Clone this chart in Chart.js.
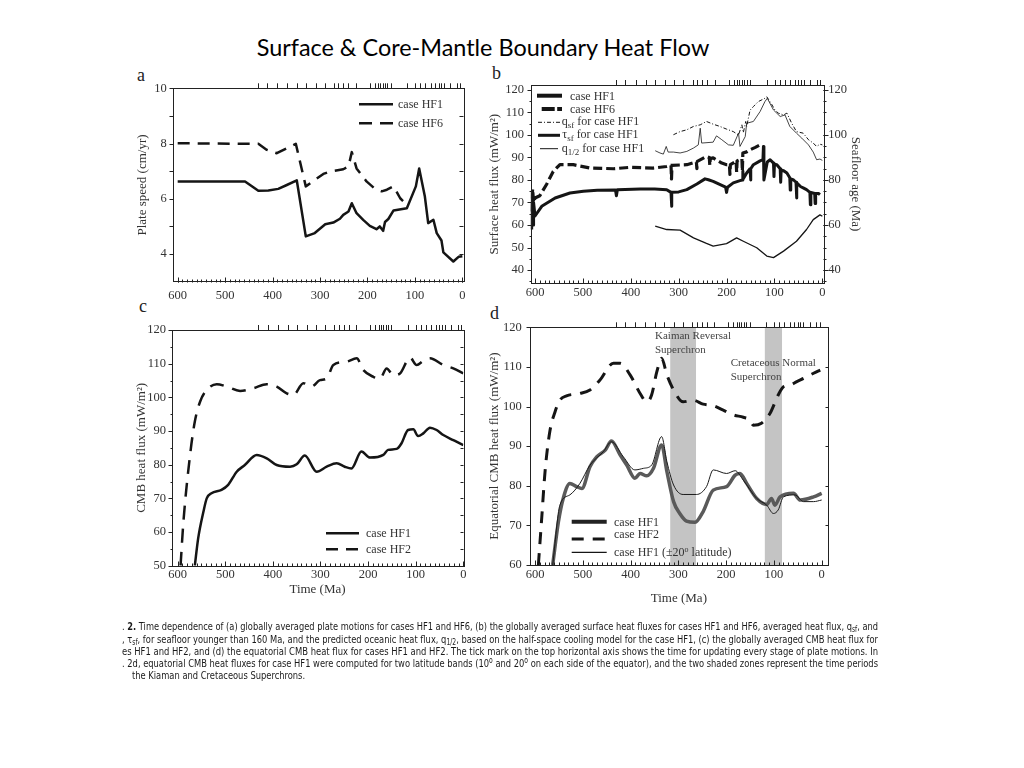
<!DOCTYPE html>
<html>
<head>
<meta charset="utf-8">
<script src="https://cdn.jsdelivr.net/npm/chart.js"></script>
<style>
  html, body { margin:0; padding:0; background:#fff; }
  body { width:1024px; height:768px; position:relative; overflow:hidden; }
  canvas { position:absolute; }
  #title { position:absolute; top:33px; left:0; width:966px; text-align:center; font-family:Lato,"Open Sans",sans-serif; font-size:22px; line-height:28px; color:#000; white-space:nowrap; }
  .letter { position:absolute; font-family:"Liberation Serif","DejaVu Serif",serif; font-size:18px; line-height:17px; color:#222; }
  .lgtext { position:absolute; font-family:"Liberation Serif","DejaVu Serif",serif; font-size:12px; line-height:14px; color:#333; white-space:nowrap; }
  .lgtext sub { font-size:9px; vertical-align:-3px; line-height:0; }
  .lgtext sup { font-size:8px; vertical-align:4px; line-height:0; }
  .note { position:absolute; font-family:"Liberation Serif","DejaVu Serif",serif; font-size:11px; line-height:13.5px; color:#444; white-space:nowrap; }
  .cap { position:absolute; font-family:"Liberation Sans Narrow","DejaVu Sans Condensed","Liberation Sans",sans-serif; font-size:11px; line-height:12px; color:#1a1a1a; white-space:nowrap; transform-origin:0 50%; }
  .cap sub { font-size:8px; vertical-align:-2px; line-height:0; }
  .cap sup { font-size:8px; vertical-align:4px; line-height:0; }
</style>
</head>
<body>
<div id="title">Surface &amp; Core-Mantle Boundary Heat Flow</div>
<div class="letter" style="left:137px;top:67px;">a</div>
<div class="letter" style="left:492px;top:65px;">b</div>
<div class="letter" style="left:139px;top:298px;">c</div>
<div class="letter" style="left:490px;top:305px;">d</div>
<script>
// ===================== DATA =====================
const timeTickLabels = [600, 500, 400, 300, 200, 100, 0];
const plateUpdateTimes = [430,410,389,368,348,328,308,289,270,260,250,239,224,194,184,177,172,167,162,157,150,115,98,88,77,66,56,49,44,38,24,10,3];

// (a) plate speed
const aSpeedTicks = [4, 6, 8, 10];
const aHF1Time  = [600,458,430,409,388,370,349,330,311,289,272,258,251,240,233,223,209,195,181,174,167,163,156,145,117,98,91,79,72,61,54,44,40,19,8,0];
const aHF1Speed = [6.63,6.63,6.29,6.30,6.36,6.50,6.67,4.64,4.76,5.08,5.14,5.28,5.42,5.54,5.84,5.48,5.24,5.02,4.90,5.00,4.84,5.16,5.27,5.58,5.66,6.45,7.10,6.08,5.12,5.24,4.76,4.49,4.06,3.73,3.90,3.92];
const aHF6Time  = [600,430,412,391,370,351,330,293,279,251,240,233,223,202,184,170,159,145,131,125];
const aHF6Speed = [8.01,7.99,7.77,7.65,7.83,7.99,6.45,6.90,6.99,7.07,7.17,7.69,7.10,6.63,6.36,6.27,6.33,6.45,6.02,5.92];

// (b) surface heat flux and seafloor age
const bFluxTicks = [40, 50, 60, 70, 80, 90, 100, 110, 120];
const bAgeTicks  = [40, 60, 80, 100, 120];
const bHF1Time = [607,606,604,603,600,586,558,527,499,470,432,430,428,380,350,325,316,315,314,300,283,262,245,238,228,202,200,198,186,172,167,166,165,158,151,150,149,144,130,124,123,122,115,109,102,101,100,95,88,87,86,80,74,68,67,66,60,55,54,53,45,40,33,26,25,24,16,15,14,8,5];
const bHF1Flux = [58,75,60,70,64,68.3,72,74.2,75,75.4,75.6,73,75.7,76,76,75.7,74.5,68.3,74.5,74.7,75.7,78.2,80.5,80.1,79.4,76.8,74.5,76.8,78.7,79.7,80,84,80.5,83.1,85,80,85,86.8,88.5,89,94.9,80,88,89,87.5,81.5,87,86.8,85,79,84.5,84,83.1,81,75.5,80.5,80,79,72,78.7,77,76.5,75.7,74.5,69,74.5,74,69.5,74,74,73.5];
const bHF6Time = [607,605,603,600,590,576,562,548,520,485,436,402,353,325,316,315,314,283,263,262,261,242,236,235,234,228,210,200,194,193,192,180,179,178,168,167,166,158,151,140,130];
const bHF6Flux = [66,76,70,72,73,78,83.8,86.8,86.8,85.3,85,85.6,85.3,86,86.5,80.5,86.5,86.8,88,85,88.3,90.5,90,86.5,89.5,89.8,87.5,86.8,86.8,82.5,86.8,88.3,83.5,88.5,89.5,84,92,92.5,93.4,94.5,95.6];
const bQsfTime = [311,297,283,269,255,242,228,214,200,186,175,168,165,160,158,151,144,134,120,116,106,99,92,81,74,64,54,40,29,19,12,5,0];
const bQsfFlux = [100.1,101.5,102.3,103.8,104.5,106,104.8,103.8,102.6,101.5,100,104.5,101,106,103.8,111,112.6,114.8,116.3,117,113.7,111.1,109.7,108.9,109.7,105.2,101.5,100.8,97.9,96.4,94.9,95.9,95.6];
const bAgeTime = [349,325,297,269,242,228,200,179,165,137,116,102,81,54,33,19,5,0];
const bAge     = [59.5,58,57.7,54.3,51.8,50.6,51.7,54.3,52.8,49.9,46.2,45.5,48.4,52.8,58,62.4,64.5,63.9];
const bQhalfTime = [349,339,332,326,322,311,297,283,269,259,255,252,228,221,210,196,186,175,172,161,158,144,130,120,115,102,88,78,68,54,43,29,19,12,5,0];
const bQhalfFlux = [93,92,91.5,94.9,92.4,92.4,92,92.7,94.2,95.6,103,96.4,96.8,99.6,97.9,95.6,95.4,100.8,94.9,99.3,105.2,106,110.4,114.8,116.3,111.1,108.2,108.9,103.8,100.8,98.6,95.6,92.4,89,89.3,88.7];

// (c) CMB heat flux
const cFluxTicks = [50, 60, 70, 80, 90, 100, 110, 120];
const cHF1Time = [564,557,546,539,529,508,494,476,459,434,413,392,364,350,333,308,287,266,249,235,214,196,168,158,140,130,116,105,95,84,70,56,42,21,0];
const cHF1Flux = [50,58.1,66,70,71.5,72.5,74,77.9,79.9,82.9,81.9,79.9,79.4,80.1,82.7,77.9,79.4,80.4,79.4,78.9,83.9,82.1,82.9,84.4,84.7,86.3,90.3,90.5,88.5,89.3,91,90.3,88.8,87.3,85.8];
const cHF2Time = [594,588,574,564,553,539,518,497,469,441,413,392,371,357,336,319,301,287,273,245,224,210,189,175,161,147,133,112,98,84,70,42,21,0];
const cHF2Flux = [50,63,82.9,92.8,98.7,102.2,103.9,103.2,101.9,102.7,103.9,103.2,101.2,100.7,104.2,103.2,105.1,105.6,109.6,110.6,111.6,108.1,106.1,105.6,108.6,106.6,107.1,111.8,109.6,110.8,111.6,109.6,108.6,107.1];

// (d) equatorial CMB heat flux
const dFluxTicks = [60, 70, 80, 90, 100, 110, 120];
const dHF2Time = [593,586,579,569,558,548,534,506,485,464,436,422,401,380,366,356,345,335,324,310,290,269,248,227,206,185,164,150,143,126,108,91,80,66,52,38,17,3];
const dHF2Flux = [60,71.8,83.6,93.7,98.7,101.6,102.7,103.3,104.2,106.7,110.9,110.9,108,103.3,101.2,102.9,108.8,112.2,108,104.2,101.2,101.6,100.6,100.2,99.1,97.9,97.3,96.6,95.3,95.8,98.3,102.9,105,105.4,106.3,107.1,108.4,109.2];
const dHF1Time = [563,551,541,527,513,502,485,471,453,440,422,408,391,380,366,352,335,324,310,297,283,265,248,227,199,181,171,157,136,115,105,98,87,59,45,17,0];
const dHF1Flux = [60,70.9,76.8,80.6,79.8,79.3,84.8,87.3,89,91.3,87.8,85.2,81.9,83.1,82.5,84.4,90.3,83.6,76,73,71.1,70.8,73.5,78.9,79.8,82.7,83.1,80.6,76.8,75.3,76.8,75.1,77.2,78.1,76.4,77.2,78.1];
const dHF1Lat20Time = [563,548,527,506,485,457,440,415,391,373,356,335,324,310,290,262,241,227,199,181,164,136,115,101,91,80,56,38,17,0];
const dHF1Lat20Flux = [60,75.1,77.7,80.6,85.2,88.6,91.1,87.3,84,84.4,85.2,92.4,86.1,80.2,77.8,77.8,79.8,84,83.1,83.8,81.4,76.8,75.1,73,73.9,77.2,77.7,76,76,76.4];
const kiamanBand = [317, 263];
const cretaceousBand = [119, 83];

// ===================== RENDERING =====================
const SERIF = '"Liberation Serif","DejaVu Serif","Times New Roman",serif';
const tickFont = {family: SERIF, size: 12.5};
const titleFont = {family: SERIF, size: 13};
const TXT = '#333';
const INK = '#151515';
const specs = {};

function pts(xs, ys) { return xs.map((x, i) => ({x: x, y: ys[i]})); }
function fixedTicks(list) { return s => { s.ticks = list.map(v => ({value: v})); }; }

const frameTicks = {
  id: 'frameTicks',
  afterDatasetsDraw(chart) {
    const sp = specs[chart.canvas.id]; if (!sp) return;
    const {ctx, chartArea: a, scales} = chart;
    ctx.save();
    ctx.strokeStyle = '#222'; ctx.lineWidth = 1;
    ctx.strokeRect(Math.round(a.left) + 0.5, Math.round(a.top) + 0.5, Math.round(a.right - a.left), Math.round(a.bottom - a.top));
    sp.marks.forEach(m => {
      const sc = scales[m.scale];
      const sg = m.dir === 'in' ? 1 : -1;
      ctx.beginPath();
      for (let v = m.from; v <= m.to + 1e-9; v += m.step) {
        const p = Math.round(sc.getPixelForValue(v)) + 0.5;
        if (m.side === 'bottom') { const y0 = Math.round(a.bottom) + 0.5; ctx.moveTo(p, y0); ctx.lineTo(p, y0 - sg * m.len); }
        else if (m.side === 'left') { const x0 = Math.round(a.left) + 0.5; ctx.moveTo(x0, p); ctx.lineTo(x0 + sg * m.len, p); }
        else if (m.side === 'right') { const x0 = Math.round(a.right) + 0.5; ctx.moveTo(x0, p); ctx.lineTo(x0 - sg * m.len, p); }
      }
      ctx.stroke();
    });
    ctx.restore();
  }
};
const bandPlugin = {
  id: 'bands',
  beforeDatasetsDraw(chart) {
    const sp = specs[chart.canvas.id]; if (!sp || !sp.bands.length) return;
    const {ctx, chartArea: a, scales: {x}} = chart;
    ctx.save(); ctx.fillStyle = '#c4c4c4';
    sp.bands.forEach(b => {
      const x1 = x.getPixelForValue(b[0]), x2 = x.getPixelForValue(b[1]);
      ctx.fillRect(Math.min(x1, x2), a.top, Math.abs(x2 - x1), a.bottom - a.top);
    });
    ctx.restore();
  }
};
Chart.register(frameTicks, bandPlugin);

function ds(xs, ys, style, yAxisID) {
  return Object.assign({data: pts(xs, ys), xAxisID: 'x', yAxisID: yAxisID || 'y', fill: false,
    pointRadius: 0, tension: 0, borderColor: INK, borderJoinStyle: 'round'}, style);
}

function makePanel(p) {
  const cv = document.createElement('canvas');
  cv.id = p.id; cv.width = p.box.w; cv.height = p.box.h;
  cv.style.left = p.box.left + 'px'; cv.style.top = p.box.top + 'px';
  document.body.appendChild(cv);
  const relL = p.area.l - p.box.left, relT = p.area.t - p.box.top;
  const relR = p.box.left + p.box.w - p.area.r, relB = p.box.top + p.box.h - p.area.b;
  specs[p.id] = {marks: p.marks, bands: p.bands || []};
  const scales = {
    x: {type: 'linear', position: 'bottom', min: p.xmin, max: p.xmax, reverse: true,
        afterBuildTicks: fixedTicks(timeTickLabels),
        grid: {display: false, drawTicks: false}, border: {display: false},
        ticks: {font: tickFont, color: TXT, padding: p.xPad, maxRotation: 0, autoSkip: false},
        title: p.xTitle ? {display: true, text: p.xTitle, font: titleFont, color: TXT, padding: {top: 0, bottom: p.xTitlePad}} : {display: false},
        afterFit: s => { s.height = relB; }},
    x2: {type: 'linear', position: 'top', min: p.xmin, max: p.xmax, reverse: true,
        afterBuildTicks: fixedTicks(plateUpdateTimes),
        grid: {display: true, drawOnChartArea: false, drawTicks: true, tickLength: 5, color: '#222', lineWidth: 1},
        border: {display: false}, ticks: {display: false, autoSkip: false},
        afterFit: s => { s.height = relT; }},
    y: {type: 'linear', position: 'left', min: p.ymin, max: p.ymax,
        afterBuildTicks: fixedTicks(p.yTicks),
        grid: {display: false, drawTicks: false}, border: {display: false},
        ticks: {font: tickFont, color: TXT, padding: p.yPad, autoSkip: false},
        title: {display: true, text: p.yTitle, font: titleFont, color: TXT, padding: {top: p.yTitlePad, bottom: 0}},
        afterFit: s => { s.width = relL; }}
  };
  if (p.y2) {
    scales.y2 = {type: 'linear', position: 'right', min: p.ymin, max: p.ymax,
        afterBuildTicks: fixedTicks(p.y2.ticks),
        grid: {display: false, drawTicks: false}, border: {display: false},
        ticks: {font: tickFont, color: TXT, padding: p.y2.pad, autoSkip: false},
        title: {display: true, text: p.y2.title, font: titleFont, color: TXT, padding: {top: p.y2.titlePad, bottom: 0}},
        afterFit: s => { s.width = relR; }};
  }
  return new Chart(cv, {
    type: 'line',
    data: {datasets: p.datasets},
    options: {
      responsive: false, animation: false, devicePixelRatio: 1,
      layout: {padding: {left: 0, top: 0, right: p.y2 ? 0 : relR, bottom: 0}},
      plugins: {legend: {display: false}, tooltip: {enabled: false}, title: {display: false}},
      elements: {point: {radius: 0}},
      scales: scales
    }
  });
}

const bottomTicks = [
  {scale: 'x', side: 'bottom', from: 0, to: 600, step: 10, len: 3, dir: 'in'},
  {scale: 'x', side: 'bottom', from: 0, to: 600, step: 100, len: 5, dir: 'in'}
];

// Panel a
makePanel({
  id: 'pa', box: {left: 120, top: 60, w: 360, h: 245}, area: {l: 172.7, t: 88.3, r: 463.3, b: 281.7},
  xmin: -2, xmax: 610.5, ymin: 3, ymax: 10, yTicks: aSpeedTicks,
  xPad: 6.4, yPad: 6, yTitle: 'Plate speed (cm/yr)', yTitlePad: 15.2,
  marks: bottomTicks.concat([
    {scale: 'y', side: 'left', from: 4, to: 10, step: 1, len: 4, dir: 'out'},
    {scale: 'y', side: 'right', from: 4, to: 10, step: 1, len: 4, dir: 'in'}
  ]),
  datasets: [
    ds(aHF1Time, aHF1Speed, {borderWidth: 2.5}),
    ds(aHF6Time, aHF6Speed, {borderWidth: 2.5, borderDash: [12, 8]})
  ]
});

// Panel b
makePanel({
  id: 'pb', box: {left: 480, top: 60, w: 390, h: 245}, area: {l: 530.7, t: 85, r: 823.3, b: 283.3},
  xmin: -2, xmax: 609, ymin: 34.1, ymax: 122.2, yTicks: bFluxTicks,
  xPad: 2.2, yPad: 6.7, yTitle: 'Surface heat flux (mW/m²)', yTitlePad: 7.2,
  y2: {ticks: bAgeTicks, pad: 5, title: 'Seafloor age (Ma)', titlePad: 7.2},
  marks: bottomTicks.concat([
    {scale: 'y', side: 'left', from: 40, to: 120, step: 10, len: 4, dir: 'out'},
    {scale: 'y', side: 'left', from: 35, to: 120, step: 5, len: 2, dir: 'out'},
    {scale: 'y2', side: 'right', from: 40, to: 120, step: 20, len: 5, dir: 'out'},
    {scale: 'y2', side: 'right', from: 35, to: 120, step: 5, len: 3, dir: 'out'}
  ]),
  datasets: [
    ds(bHF1Time, bHF1Flux, {borderWidth: 3}),
    ds(bHF6Time, bHF6Flux, {borderWidth: 3.2, borderDash: [9, 4]}),
    ds(bQsfTime, bQsfFlux, {borderWidth: 1, borderDash: [4, 2, 1, 2]}),
    ds(bAgeTime, bAge, {borderWidth: 1.3}, 'y2'),
    ds(bQhalfTime, bQhalfFlux, {borderWidth: 0.8})
  ]
});

// Panel c
makePanel({
  id: 'pc', box: {left: 120, top: 305, w: 360, h: 310}, area: {l: 171.7, t: 330, r: 463.3, b: 565.7},
  xmin: 0, xmax: 612.6, ymin: 50, ymax: 120, yTicks: cFluxTicks,
  xPad: 1.6, xTitle: 'Time (Ma)', xTitlePad: 17.2,
  yPad: 5.7, yTitle: 'CMB heat flux (mW/m²)', yTitlePad: 13.9,
  marks: bottomTicks.concat([
    {scale: 'y', side: 'left', from: 50, to: 120, step: 10, len: 4, dir: 'out'},
    {scale: 'y', side: 'left', from: 55, to: 115, step: 10, len: 2, dir: 'out'},
    {scale: 'y', side: 'right', from: 50, to: 120, step: 5, len: 3, dir: 'in'}
  ]),
  datasets: [
    ds(cHF1Time, cHF1Flux, {borderWidth: 2.5, cubicInterpolationMode: 'monotone'}),
    ds(cHF2Time, cHF2Flux, {borderWidth: 2.5, borderDash: [14, 9], cubicInterpolationMode: 'monotone'})
  ]
});

// Panel d
makePanel({
  id: 'pd', box: {left: 480, top: 305, w: 390, h: 310}, area: {l: 530, t: 327.3, r: 827.7, b: 565},
  xmin: -12.6, xmax: 610.5, ymin: 60, ymax: 120, yTicks: dFluxTicks,
  xPad: 2, xTitle: 'Time (Ma)', xTitlePad: 8.9,
  yPad: 8.3, yTitle: 'Equatorial CMB heat flux (mW/m²)', yTitlePad: 7.2,
  bands: [kiamanBand, cretaceousBand],
  marks: bottomTicks.concat([
    {scale: 'y', side: 'left', from: 60, to: 120, step: 10, len: 4, dir: 'out'},
    {scale: 'y', side: 'right', from: 60, to: 120, step: 10, len: 3, dir: 'in'}
  ]),
  datasets: [
    ds(dHF1Lat20Time, dHF1Lat20Flux, {borderWidth: 1, borderColor: '#1a1a1a', cubicInterpolationMode: 'monotone'}),
    ds(dHF1Time, dHF1Flux, {borderWidth: 3.5, borderColor: '#5a5a5a', cubicInterpolationMode: 'monotone'}),
    ds(dHF2Time, dHF2Flux, {borderWidth: 3, borderDash: [12, 9], cubicInterpolationMode: 'monotone'})
  ]
});

// ---------- legends / notes (HTML + SVG) ----------
const svgNS = 'http://www.w3.org/2000/svg';
const ov = document.createElementNS(svgNS, 'svg');
ov.setAttribute('width', '1024'); ov.setAttribute('height', '768');
ov.style.position = 'absolute'; ov.style.left = '0'; ov.style.top = '0';
document.body.appendChild(ov);
function lgLine(x1, x2, y, w, dash, color) {
  const l = document.createElementNS(svgNS, 'line');
  l.setAttribute('x1', x1); l.setAttribute('x2', x2); l.setAttribute('y1', y); l.setAttribute('y2', y);
  l.setAttribute('stroke', color || INK); l.setAttribute('stroke-width', w);
  if (dash) l.setAttribute('stroke-dasharray', dash);
  ov.appendChild(l);
}
function lgText(x, y, html) {
  const d = document.createElement('div'); d.className = 'lgtext';
  d.style.left = x + 'px'; d.style.top = (y - 7) + 'px'; d.innerHTML = html;
  document.body.appendChild(d);
}
// a
lgLine(359, 393, 104.3, 2.5); lgText(398, 104.3, 'case HF1');
lgLine(359, 393, 123.3, 2.5, '13 8'); lgText(398, 123.3, 'case HF6');
// b
lgLine(537, 562, 95.7, 4); lgText(570, 95.7, 'case HF1');
lgLine(541.7, 562, 109, 4, '13 2.5'); lgText(570, 109, 'case HF6');
lgLine(538, 560, 122.3, 1, '4 2 1 2'); lgText(561.7, 121.3, 'q<sub>sf</sub> for case HF1');
lgLine(538, 560, 135.3, 3); lgText(562.3, 134.3, 'τ<sub>sf</sub> for case HF1');
lgLine(540, 558, 148.7, 1); lgText(561.7, 147.7, 'q<sub>1/2</sub> for case HF1');
// c
lgLine(326, 359, 533.3, 2.5); lgText(366, 533.3, 'case HF1');
lgLine(326, 359, 549.3, 2.5, '12 8'); lgText(366, 549.3, 'case HF2');
// d
lgLine(571.7, 606.7, 521.7, 4, null, '#222'); lgText(614, 521.7, 'case HF1');
lgLine(571.7, 606.7, 539, 3, '12 9'); lgText(614, 534.3, 'case HF2');
lgLine(571.7, 606.7, 552.3, 1.2); lgText(614, 552.3, 'case HF1 (±20<sup>o</sup> latitude)');

function note(x, y, html) {
  const d = document.createElement('div'); d.className = 'note';
  d.style.left = x + 'px'; d.style.top = y + 'px'; d.innerHTML = html;
  document.body.appendChild(d);
}
note(655, 329, 'Kaiman Reversal<br>Superchron');
note(730.7, 356, 'Cretaceous Normal<br>Superchron');

// ---------- caption ----------
const capLines = [
  '. <b>2.</b> Time dependence of (a) globally averaged plate motions for cases HF1 and HF6, (b) the globally averaged surface heat fluxes for cases HF1 and HF6, averaged heat flux, q<sub>sf</sub>, and',
  ', τ<sub>sf</sub>, for seafloor younger than 160 Ma, and the predicted oceanic heat flux, q<sub>1/2</sub>, based on the half-space cooling model for the case HF1, (c) the globally averaged CMB heat flux for',
  'es HF1 and HF2, and (d) the equatorial CMB heat flux for cases HF1 and HF2. The tick mark on the top horizontal axis shows the time for updating every stage of plate motions. In',
  '. 2d, equatorial CMB heat fluxes for case HF1 were computed for two latitude bands (10<sup>o</sup> and 20<sup>o</sup> on each side of the equator), and the two shaded zones represent the time periods',
  'the Kiaman and Cretaceous Superchrons.'
];
const capCenters = [627, 643, 659, 675, 675];
const capY = [627, 639.5, 651.5, 663.5, 675.5];
const capEls = capLines.map((h, i) => {
  const d = document.createElement('div'); d.className = 'cap'; d.innerHTML = h;
  d.style.left = (i === 4 ? 132 : 122) + 'px'; d.style.top = (capY[i] - 6) + 'px';
  document.body.appendChild(d); return d;
});
let sSum = 0;
capEls.slice(0, 4).forEach(d => { const s = 756 / d.getBoundingClientRect().width; sSum += s; d.style.transform = 'scaleX(' + s + ')'; });
capEls[4].style.transform = 'scaleX(' + (sSum / 4) + ')';

// title fit
const t = document.getElementById('title');
const tw = (() => { const r = document.createRange(); r.selectNodeContents(t); return r.getBoundingClientRect().width; })();
t.style.fontSize = (22 * 453 / tw) + 'px';
</script>
</body>
</html>
